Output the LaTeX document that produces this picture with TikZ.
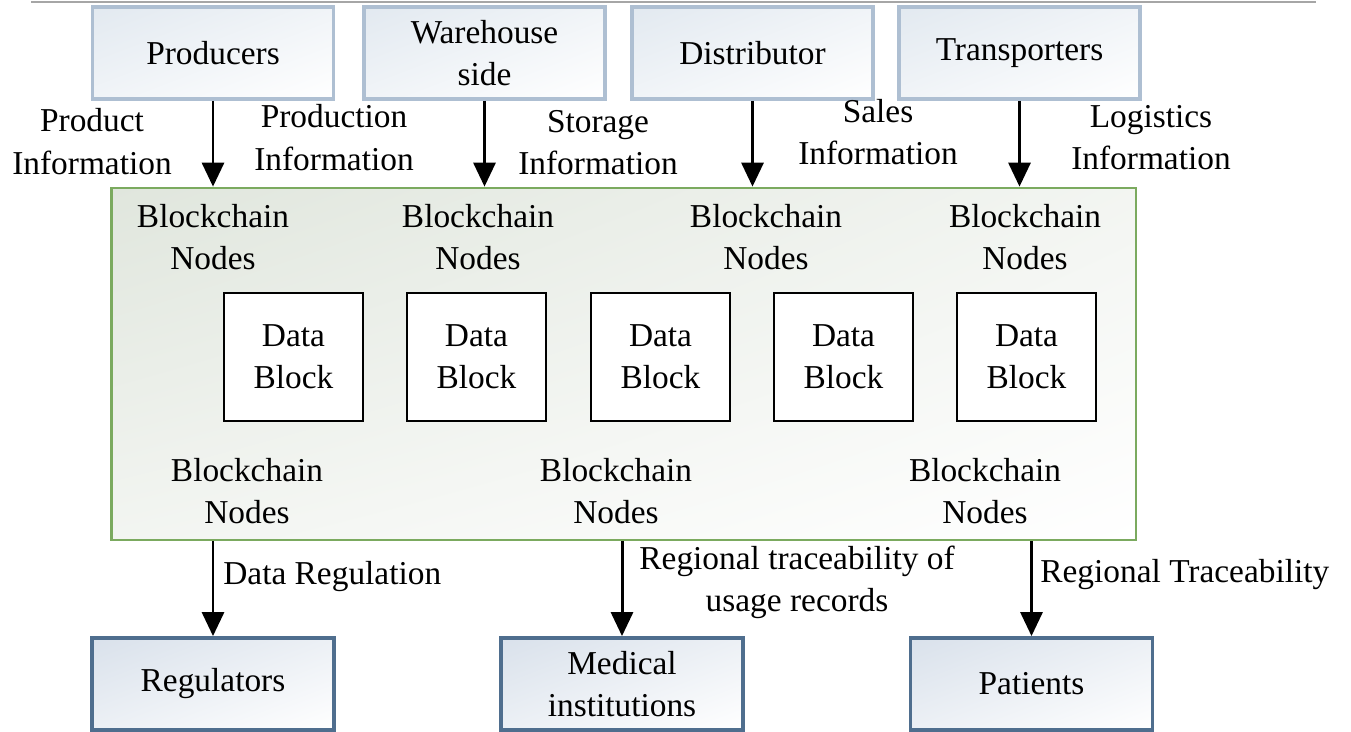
\documentclass[tikz,border=0pt]{standalone}
\usepackage{fontspec}
\setmainfont{Liberation Serif}
\usetikzlibrary{arrows.meta,positioning,shadings}
\definecolor{topedge}{HTML}{AEBFD2}
\definecolor{topfill}{HTML}{E2E9F0}
\definecolor{botedge}{HTML}{4F6E8E}
\definecolor{botfill}{HTML}{D9E1EB}
\definecolor{chainedge}{HTML}{7BAA5F}
\definecolor{chainfill}{HTML}{E0E6DD}

\begin{document}
\begin{tikzpicture}[
    x=0.02cm, y=-0.02cm,
    font=\fontsize{19}{24}\selectfont,
    party/.style={draw=topedge, line width=2.2pt, minimum width=4.82cm, minimum height=1.84cm, align=center,
        upper left=topfill, upper right=topfill!50, lower left=topfill!50, lower right=white},
    user/.style={draw=botedge, line width=2.2pt, minimum width=4.84cm, minimum height=1.84cm, align=center,
        upper left=botfill, upper right=botfill!50, lower left=botfill!50, lower right=white},
    datablock/.style={draw, line width=1.3pt, fill=white, minimum width=2.78cm, minimum height=2.56cm, align=center},
    lbl/.style={align=center, inner sep=0pt},
    flow/.style={-{Triangle[length=0.48cm, width=0.44cm]}, line width=1.7pt},
]
    \useasboundingbox (0,0) rectangle (1351,731);
    \draw[black!35, line width=1.2pt] (31,2) -- (1316,2);

    \node[draw=chainedge, line width=1.6pt, minimum width=20.5cm, minimum height=7.04cm,
        upper left=chainfill, upper right=chainfill!40, lower left=chainfill!40, lower right=white] (chain) at (623.5,364) {};

    \node[party] (prod) at (213,53) {Producers};
    \node[party] (ware) at (484.5,53) {Warehouse\\side};
    \node[party] (dist) at (752.5,53) {Distributor};
    \node[party] (trans) at (1019.5,53) {Transporters};

    \node[user] (reg) at (213,684) {Regulators};
    \node[user] (med) at (622,684) {Medical\\institutions};
    \node[user] (pat) at (1031.5,684) {Patients};

    \node[lbl] (pinfo) at (92,141.5) {Product\\Information};
    \node[lbl] (prodinfo) at (334,137.5) {Production\\Information};
    \node[lbl] (stinfo) at (598,143) {Storage\\Information};
    \node[lbl] (sinfo) at (878,132) {Sales\\Information};
    \node[lbl] (linfo) at (1151,138) {Logistics\\Information};

    \node[lbl] (bn1) at (213,237) {Blockchain\\Nodes};
    \node[lbl] (bn2) at (478,237) {Blockchain\\Nodes};
    \node[lbl] (bn3) at (766,237) {Blockchain\\Nodes};
    \node[lbl] (bn4) at (1025,237) {Blockchain\\Nodes};
    \node[lbl] (bn5) at (247,491) {Blockchain\\Nodes};
    \node[lbl] (bn6) at (616,491) {Blockchain\\Nodes};
    \node[lbl] (bn7) at (985,491) {Blockchain\\Nodes};

    \node[datablock] (db1) at (293.5,357) {Data\\Block};
    \node[datablock] (db2) at (476.5,357) {Data\\Block};
    \node[datablock] (db3) at (660.5,357) {Data\\Block};
    \node[datablock] (db4) at (843.5,357) {Data\\Block};
    \node[datablock] (db5) at (1026.5,357) {Data\\Block};

    \draw[flow] (prod) -- (prod |- chain.north);
    \draw[flow] (ware) -- (ware |- chain.north);
    \draw[flow] (dist) -- (dist |- chain.north);
    \draw[flow] (trans) -- (trans |- chain.north);

    \draw[flow] (reg |- chain.south) -- (reg);
    \draw[flow] (med |- chain.south) -- (med);
    \draw[flow] (pat |- chain.south) -- (pat);

    \node[lbl, anchor=west] (dreg) at (223,577) {Data Regulation};
    \node[lbl] (rtur) at (797,582) {Regional traceability of\\usage records};
    \node[lbl, anchor=west] (rtrace) at (1040,575) {Regional Traceability};
\end{tikzpicture}
\end{document}
